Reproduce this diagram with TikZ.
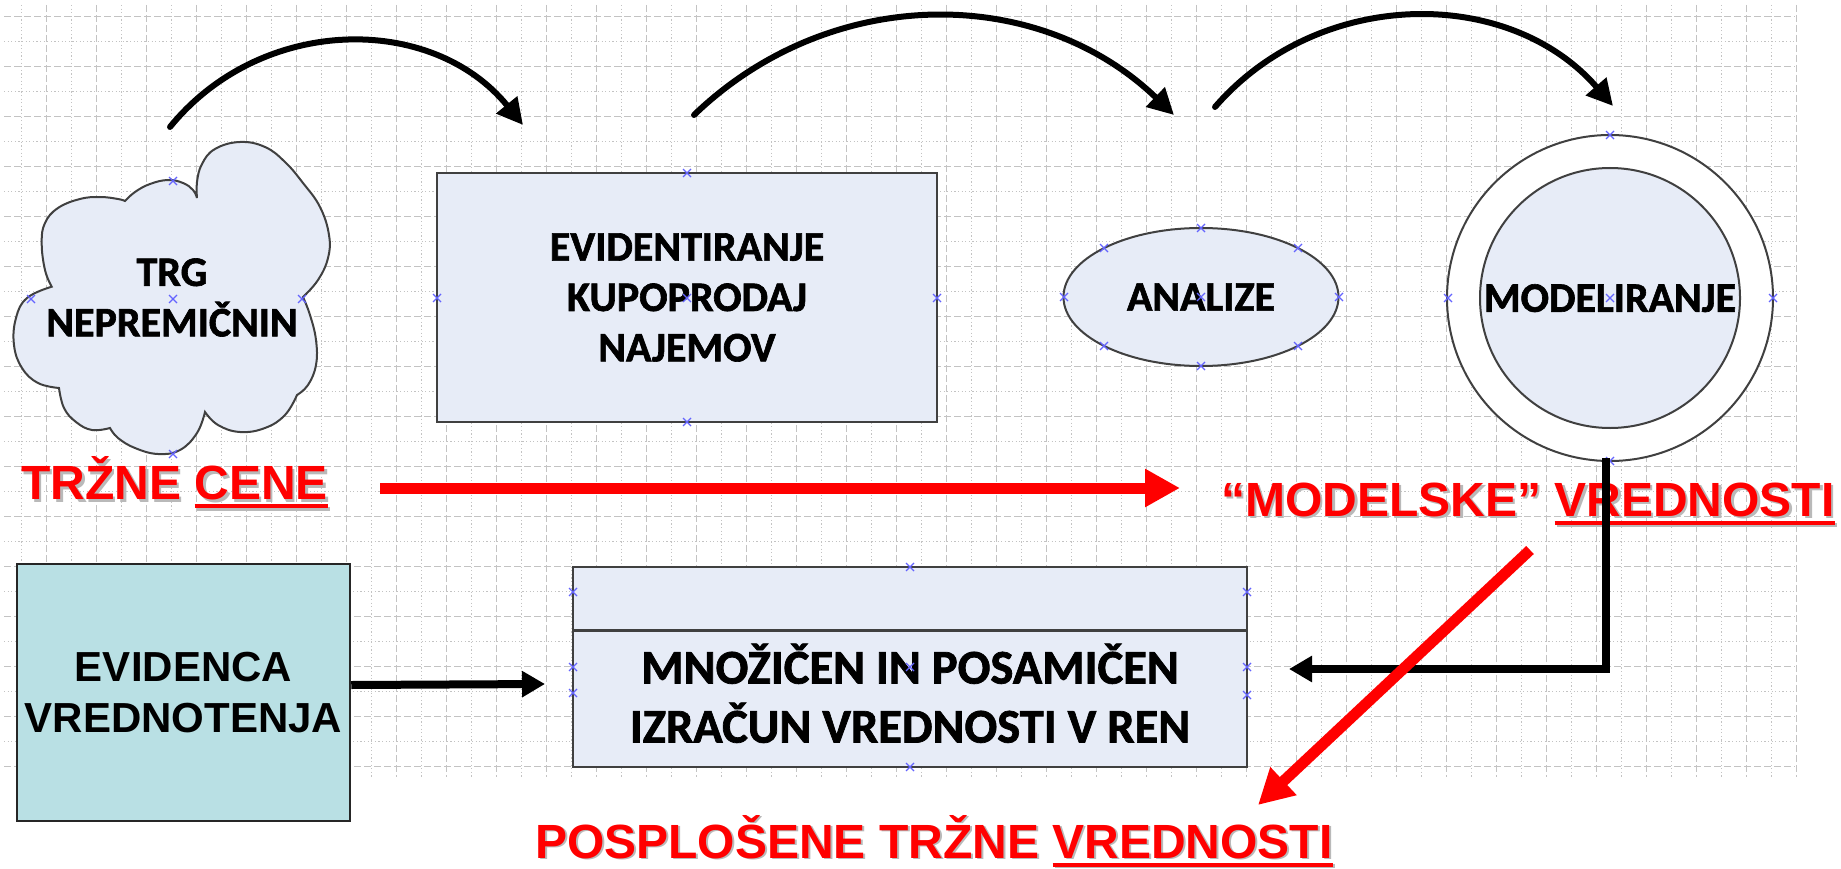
\documentclass[tikz,border=0pt]{standalone}
\usepackage{fontspec}
\newfontfamily\calfont{Carlito}[BoldFeatures={FakeBold=1.5}]
\newfontfamily\arifont{Liberation Sans}
\usetikzlibrary{arrows.meta,shapes.geometric}
\definecolor{shapefill}{RGB}{231,236,247}
\definecolor{tealfill}{RGB}{185,224,228}
\definecolor{edgec}{RGB}{64,64,64}
\definecolor{gridc}{RGB}{195,195,195}
\definecolor{xblue}{RGB}{100,100,255}
\definecolor{shadowc}{RGB}{185,185,185}
\newcommand\redul[1]{\setbox0\hbox{#1}\rlap{\rule[-8.5pt]{\wd0}{4pt}}\box0}
\tikzset{
  shapeedge/.style={draw=edgec, line width=2pt, fill=shapefill},
  lbl/.style={font=\calfont\bfseries\fontsize{42}{50.4}\selectfont, text=black},
  lblbig/.style={font=\calfont\bfseries\fontsize{48.5}{58}\selectfont, text=black, anchor=base, inner sep=0pt},
  redtxt/.style={font=\arifont\bfseries\fontsize{48}{57.6}\selectfont, text=red, anchor=base west, inner sep=0pt},
  redshadow/.style={redtxt, text=shadowc},
  griddash/.style={draw=gridc, line width=1.2pt, dash pattern=on 7pt off 3pt},
  griddot/.style={draw=gridc, line width=1.2pt, dash pattern=on 1.2pt off 2.4pt},
  xmark/.style={draw=xblue, line width=1.3pt},
  toparc/.style={draw=black, line width=6pt, line cap=round, -{Triangle[length=26pt,width=26pt]}},
  blkarrow/.style={draw=black, line width=8pt, line join=miter, -{Triangle[length=23pt,width=25pt]}},
  redarrow/.style={draw=red, line width=11pt, -{Triangle[length=35pt,width=36pt]}},
}
\begin{document}
\begin{tikzpicture}[x=1pt,y=-1pt]
\useasboundingbox (0,0) rectangle (1841,869);
\fill[white] (0,0) rectangle (1841,869);
% grid
\foreach \k in {0,...,15} \draw[griddash] (4,{16.7+50*\k}) -- (1795,{16.7+50*\k});
\foreach \k in {0,...,14} \draw[griddot] (4,{41.7+50*\k}) -- (1795,{41.7+50*\k});
\foreach \k in {0,...,35} \draw[griddash] ({46.7+50*\k},5) -- ({46.7+50*\k},777);
\foreach \k in {0,...,35} \draw[griddot] ({21.7+50*\k},5) -- ({21.7+50*\k},777);
% cloud
\draw[shapeedge] (51.7,286.7)
 -- plot[smooth, tension=0.7] coordinates {(51.7,286.7) (45,270) (41.7,243) (45,223) (58,208) (80,199) (100,197) (118,199) (125,201)}
 -- plot[smooth, tension=0.7] coordinates {(125,201) (135,192) (150,184) (168,180) (183,183) (193,190) (197,198)}
 -- plot[smooth, tension=0.7] coordinates {(197,198) (197,182) (202,164) (215,149) (240,142) (265,147) (285,162) (303,183) (320,207) (329,235) (328,258) (318,280) (303,297)}
 -- plot[smooth, tension=0.7] coordinates {(303,297) (310,315) (316,340) (316,365) (308,385) (297,395)}
 -- plot[smooth, tension=0.7] coordinates {(297,395) (285,415) (265,428) (240,432) (218,425) (205,412)}
 -- plot[smooth, tension=0.7] coordinates {(205,412) (197,433) (180,450) (158,454) (135,448) (118,438) (110,428)}
 -- plot[smooth, tension=0.7] coordinates {(110,428) (92,430) (76,422) (64,408) (59,388)}
 -- plot[smooth, tension=0.7] coordinates {(59,388) (38,383) (22,368) (14,345) (16,318) (27,298) (51.7,286.7)}
 -- cycle;
\node[lbl, align=center, inner sep=0pt] (trg) at (172,297.5) {TRG\\NEPREMIČNIN};
% rectangle
\node[shapeedge, rectangle, minimum width=500pt, minimum height=249pt, inner sep=0pt, lbl, align=center] (evid) at (687,297.5) {EVIDENTIRANJE\\KUPOPRODAJ\\NAJEMOV};
% ellipse
\node[shapeedge, ellipse, minimum width=275pt, minimum height=138pt, inner sep=0pt, lbl, text depth=0pt] (ana) at (1201,297) {ANALIZE};
% double circle
\node[draw=edgec, line width=2pt, fill=white, circle, minimum size=326pt, inner sep=0pt] (modo) at (1610,298) {};
\node[shapeedge, circle, minimum size=260pt, inner sep=0pt, lbl, text depth=0pt] (mod) at (1610,298) {MODELIRANJE};
% evidenca box
\node[draw=black!85, line width=2.5pt, fill=tealfill, minimum width=333pt, minimum height=257pt, inner sep=0pt, font=\arifont\bfseries\fontsize{42}{51}\selectfont, align=center] (evv) at (183.5,692.5) {EVIDENCA\\VREDNOTENJA};
% calc box
\node[shapeedge, rectangle, minimum width=674pt, minimum height=200pt, inner sep=0pt] (calc) at (910,667) {};
\draw[draw=edgec, line width=3pt] (calc.west |- 0,630) -- (calc.east |- 0,630);
\node[lblbig] (mn1) at (910,683.6) {MNOŽIČEN IN POSAMIČEN};
\node[lblbig] (mn2) at (910,742.6) {IZRAČUN VREDNOSTI V REN};
% connection crosses
\foreach \p in {(173,181),(31,299),(173,299),(302,299),(173,454),
  (687,173),(437,298),(687,298),(937,298),(687,422),
  (1201,228),(1104,248),(1298,248),(1064,297),(1201,297),(1339,297),(1104,346),(1298,346),(1201,366),
  (1610,135),(1448,298),(1610,298),(1773,298),(1610,461),
  (910,567),(573,592),(1247,592),(573,667),(910,667),(1247,667),(573,693),(1247,695),(910,767)}
  \draw[xmark] \p +(-4,-4) -- +(4,4) \p +(-4,4) -- +(4,-4);
% red texts
\node[redshadow] (trzsh) at (23.5,502) {TRŽNE \redul{CENE}};
\node[redtxt] (trz) at (21,499.5) {TRŽNE \redul{CENE}};
\node[redshadow] (modsh) at (1223.5,518.5) {“MODELSKE” \redul{VREDNOSTI}};
\node[redtxt] (modv) at (1221,516) {“MODELSKE” \redul{VREDNOSTI}};
\node[redshadow] (possh) at (537,859.5) {POSPLOŠENE TRŽNE \redul{VREDNOSTI}};
\node[redtxt] (posv) at (535,858) {POSPLOŠENE TRŽNE \redul{VREDNOSTI}};
% top arcs
\coordinate (a1s) at (170,127); \coordinate (a1e) at (523,125);
\coordinate (a2s) at (694,115); \coordinate (a2e) at (1174,115);
\coordinate (a3s) at (1215,107); \coordinate (a3e) at (1613,106);
\draw[toparc] (a1s) .. controls (261,15) and (432,13) .. (a1e);
\draw[toparc] (a2s) .. controls (830,-16) and (1038,-16) .. (a2e);
\draw[toparc] (a3s) .. controls (1319,-13) and (1509,-14) .. (a3e);
% black connectors
\coordinate (b1e) at (545,684);
\draw[blkarrow] ([yshift=7.5pt]evv.east) -- (b1e);
\coordinate (b2e) at (1289,669);
\draw[blkarrow] ([xshift=-4pt,yshift=4pt]modo.south) |- (b2e);
% red arrows
\coordinate (r1s) at (380,488); \coordinate (r1e) at (1180,488);
\draw[redarrow] (r1s) -- (r1e);
\coordinate (r2s) at (1530,550); \coordinate (r2e) at (1258,805);
\draw[redarrow] (r2s) -- (r2e);
\end{tikzpicture}
\end{document}
